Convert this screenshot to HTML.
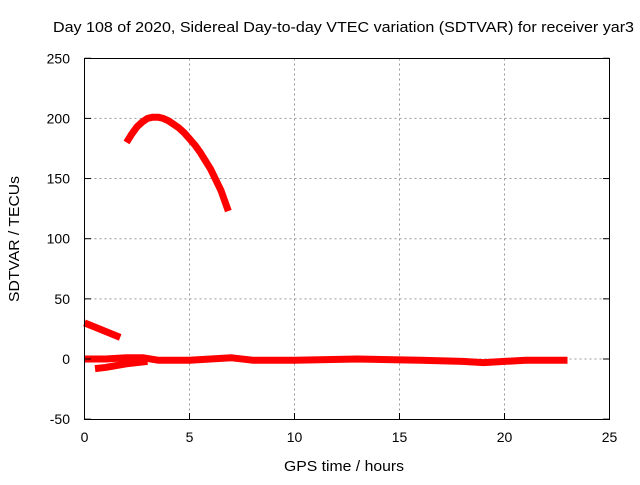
<!DOCTYPE html>
<html><head><meta charset="utf-8"><style>
body{margin:0;background:#fff}
svg text{font-family:"Liberation Sans",sans-serif;font-size:14px;fill:#000}
</style></head><body>
<svg width="640" height="480">
<g id="grid"></g>
<g id="series"></g>
<rect x="84.5" y="58.5" width="525" height="361" fill="none" stroke="#000"/>
<g id="ticks"></g>
<text x="53" y="32" textLength="581" lengthAdjust="spacingAndGlyphs" style="font-size:15px">Day 108 of 2020, Sidereal Day-to-day VTEC variation (SDTVAR) for receiver yar3</text>
<text x="284" y="471" textLength="120" lengthAdjust="spacingAndGlyphs" style="font-size:15px">GPS time / hours</text>
<text transform="translate(19,302) rotate(-90)" textLength="126" lengthAdjust="spacingAndGlyphs" style="font-size:15px">SDTVAR / TECUs</text>
</svg>
<script>
const xTicks=[0,5,10,15,20,25];
const yTicks=[-50,0,50,100,150,200,250];
const arcX=[2.0,2.25,2.5,2.75,3.0,3.25,3.5,3.75,4.0,4.25,4.5,4.75,5.0,5.25,5.5,5.75,6.0,6.25,6.5,6.85];
const arcY=[180,187,193,197,200,201,201,200,198,195,192,188,183,178,172,165,158,149,140,123];
const earlyX=[0,1.7];
const earlyY=[30,18];
const baseX=[0,1,2,2.8,3.5,5,6,7,8,10,13,16,18,19,20,21,23];
const baseY=[0,0,1,1,-1,-1,0,1,-1,-1,0,-1,-2,-3,-2,-1,-1];
const lowX=[0.5,1,2,3];
const lowY=[-8,-7,-4,-2];
const X=v=>84.5+v*21, Y=v=>359-v*1.203;
const NS="http://www.w3.org/2000/svg";
const grid=document.getElementById('grid'),ticks=document.getElementById('ticks'),ser=document.getElementById('series');
function mk(tag,attrs,parent){const e=document.createElementNS(NS,tag);for(const k in attrs)e.setAttribute(k,attrs[k]);parent.appendChild(e);return e;}
xTicks.forEach(t=>{const x=X(t);
 if(t>0&&t<25){const g=mk('line',{x1:x,x2:x,y1:58.5,y2:419.5,stroke:'#999','stroke-dasharray':'2,3'},grid);
 
 }
 mk('line',{x1:x,x2:x,y1:419.5,y2:413,stroke:'#000'},ticks);
 const l=mk('text',{x:x,y:442,'text-anchor':'middle'},ticks);l.textContent=t;
 
 });
yTicks.forEach(t=>{const y=Y(t);
 if(t>-50&&t<250){const g=mk('line',{x1:84.5,x2:609.5,y1:y,y2:y,stroke:'#999','stroke-dasharray':'2,3'},grid);
 
 }
 mk('line',{x1:84.5,x2:91,y1:y,y2:y,stroke:'#000'},ticks);
 mk('line',{x1:609.5,x2:603,y1:y,y2:y,stroke:'#000'},ticks);
 const l=mk('text',{x:70,y:y+5,'text-anchor':'end'},ticks);l.textContent=t;
 
 });
[[arcX,arcY,'series-arc'],[earlyX,earlyY,'series-early'],[baseX,baseY,'series-baseline'],[lowX,lowY,'series-low']].forEach(([xs,ys,n])=>{
 const p=mk('polyline',{points:xs.map((v,i)=>X(v)+','+Y(ys[i])).join(' '),fill:'none',stroke:'#f00','stroke-width':7,'stroke-linejoin':'round'},ser);
 
 });
</script>
</body></html>
